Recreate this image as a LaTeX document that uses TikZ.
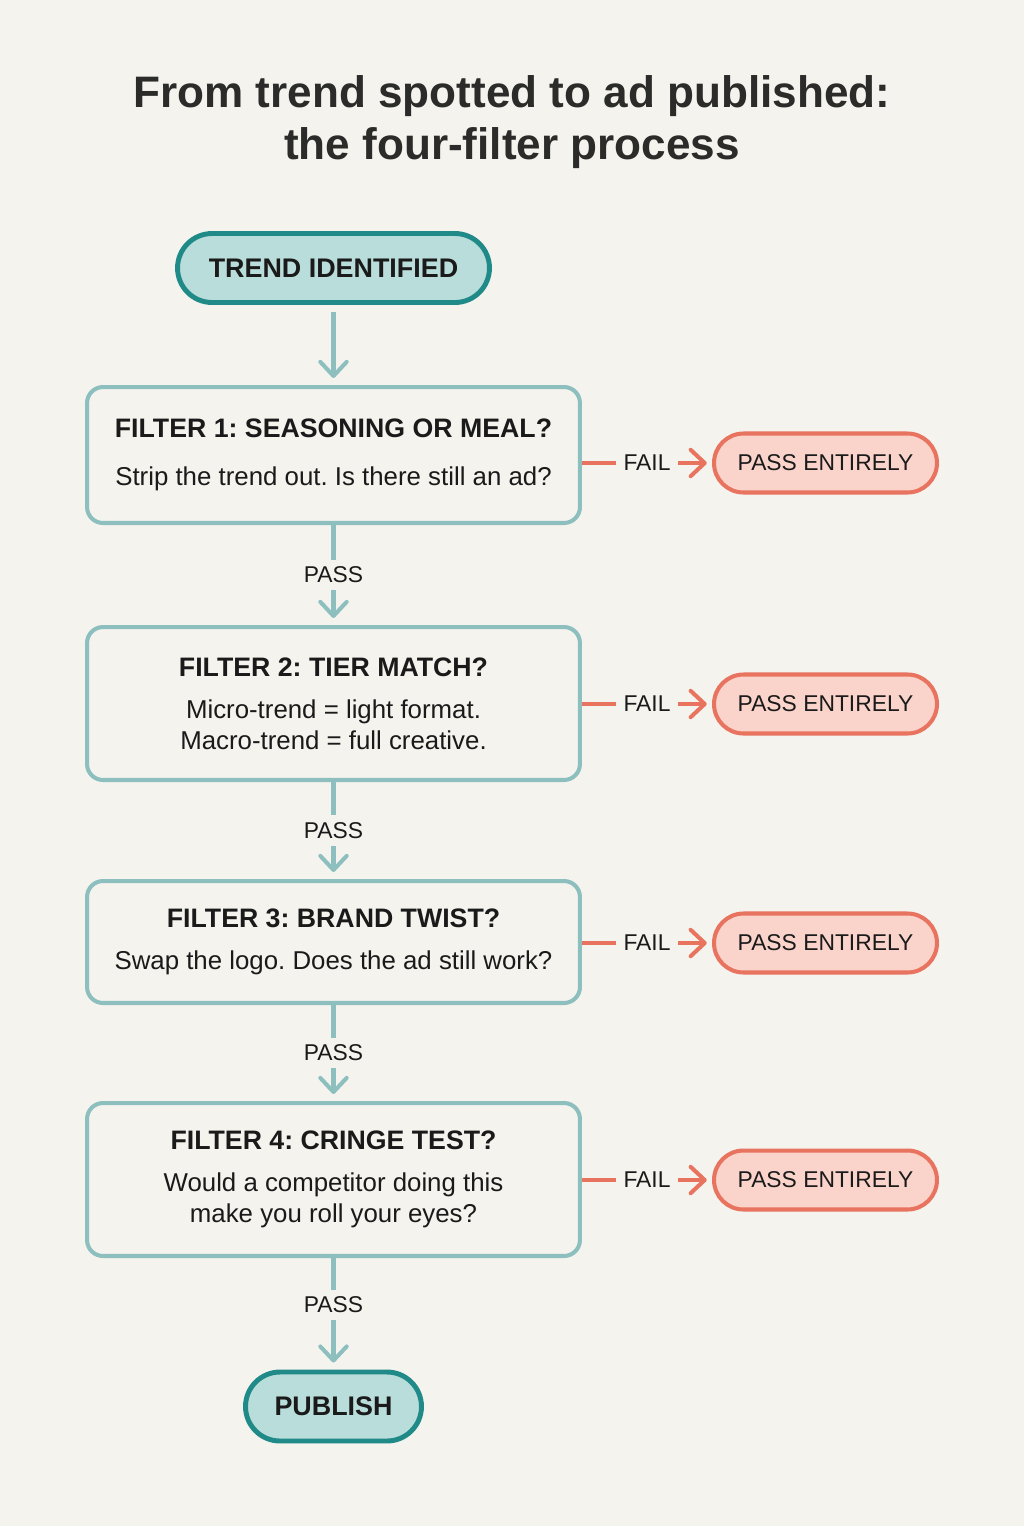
\documentclass[tikz,border=0pt]{standalone}
\usepackage{fontspec}
\setmainfont{Liberation Sans}
\usetikzlibrary{arrows.meta,positioning}
\frenchspacing

\definecolor{bgpaper}{HTML}{F4F3EE}
\definecolor{tealdark}{HTML}{1F8A87}
\definecolor{tealfill}{HTML}{B9DDDA}
\definecolor{tealline}{HTML}{8DBFBF}
\definecolor{redline}{HTML}{E8735F}
\definecolor{redfill}{HTML}{FAD4CB}
\definecolor{ink}{HTML}{1A1A1A}
\definecolor{titleink}{HTML}{2B2B29}

\newcommand{\filtertitle}[1]{{\bfseries\fontsize{15.2}{17.6}\selectfont #1}}

\begin{document}
\begin{tikzpicture}[x=0.02cm,y=-0.02cm,
  >={Straight Barb[length=8pt,width=15pt,round]},
  pill/.style={draw=tealdark,fill=tealfill,line width=2.8pt,rounded corners=0.69cm,
    minimum height=1.38cm,text=ink,font=\bfseries\fontsize{15.3}{18}\selectfont},
  filterbox/.style={draw=tealline,fill=bgpaper,line width=2.3pt,rounded corners=0.32cm,
    minimum width=9.86cm,align=center,text=ink,font=\fontsize{14.7}{17.6}\selectfont},
  failpill/.style={draw=redline,fill=redfill,line width=2.3pt,rounded corners=0.59cm,
    minimum width=4.46cm,minimum height=1.18cm,text=ink,font=\fontsize{13}{16}\selectfont},
  flow/.style={draw=tealline,line width=2.3pt,->},
  failflow/.style={draw=redline,line width=2.3pt,->,shorten >=3pt},
  lbl/.style={fill=bgpaper,text=ink,inner sep=4pt,font=\fontsize{13}{16}\selectfont},
  headline/.style={text=titleink,anchor=base,font=\bfseries\fontsize{25.1}{29.5}\selectfont}]

% paper
\fill[bgpaper] (0,0) rectangle (1024,1526);

% title
\node[headline] (titleA) at (512,107) {From trend spotted to ad published:};
\node[headline] (titleB) at (512,159) {the four-filter process};

% main column
\node[pill,minimum width=6.24cm]   (trend) at (333.5,268)   {TREND IDENTIFIED};
\node[filterbox,minimum height=2.72cm] (f1) at (333.5,455)
  {\filtertitle{FILTER 1: SEASONING OR MEAL?}\\[9.6pt] Strip the trend out. Is there still an ad?};
\node[filterbox,minimum height=3.06cm] (f2) at (333.5,703.5)
  {\filtertitle{FILTER 2: TIER MATCH?}\\[6.2pt] Micro-trend = light format.\\ Macro-trend = full creative.};
\node[filterbox,minimum height=2.44cm] (f3) at (333.5,942)
  {\filtertitle{FILTER 3: BRAND TWIST?}\\[6.2pt] Swap the logo. Does the ad still work?};
\node[filterbox,minimum height=3.06cm] (f4) at (333.5,1179.5)
  {\filtertitle{FILTER 4: CRINGE TEST?}\\[6.2pt] Would a competitor doing this\\ make you roll your eyes?};
\node[pill,minimum width=3.52cm]   (publish) at (333.5,1406.5) {PUBLISH};

% fail side
\node[failpill] (p1) at (825.5,463)  {PASS ENTIRELY};
\node[failpill] (p2) at (825.5,704)  {PASS ENTIRELY};
\node[failpill] (p3) at (825.5,943)  {PASS ENTIRELY};
\node[failpill] (p4) at (825.5,1180) {PASS ENTIRELY};

\draw[flow,shorten <=4pt,shorten >=4pt] (trend) -- (f1);
\draw[flow,shorten >=4pt] (f1) -- node[lbl]{PASS} (f2);
\draw[flow,shorten >=4pt] (f2) -- node[lbl]{PASS} (f3);
\draw[flow,shorten >=4pt] (f3) -- node[lbl]{PASS} (f4);
\draw[flow,shorten >=4pt] (f4) -- node[lbl,pos=0.42]{PASS} (publish);

\draw[failflow] (f1.east |- p1) -- node[lbl]{FAIL} (p1.west);
\draw[failflow] (f2.east |- p2) -- node[lbl]{FAIL} (p2.west);
\draw[failflow] (f3.east |- p3) -- node[lbl]{FAIL} (p3.west);
\draw[failflow] (f4.east |- p4) -- node[lbl]{FAIL} (p4.west);

\end{tikzpicture}
\end{document}
